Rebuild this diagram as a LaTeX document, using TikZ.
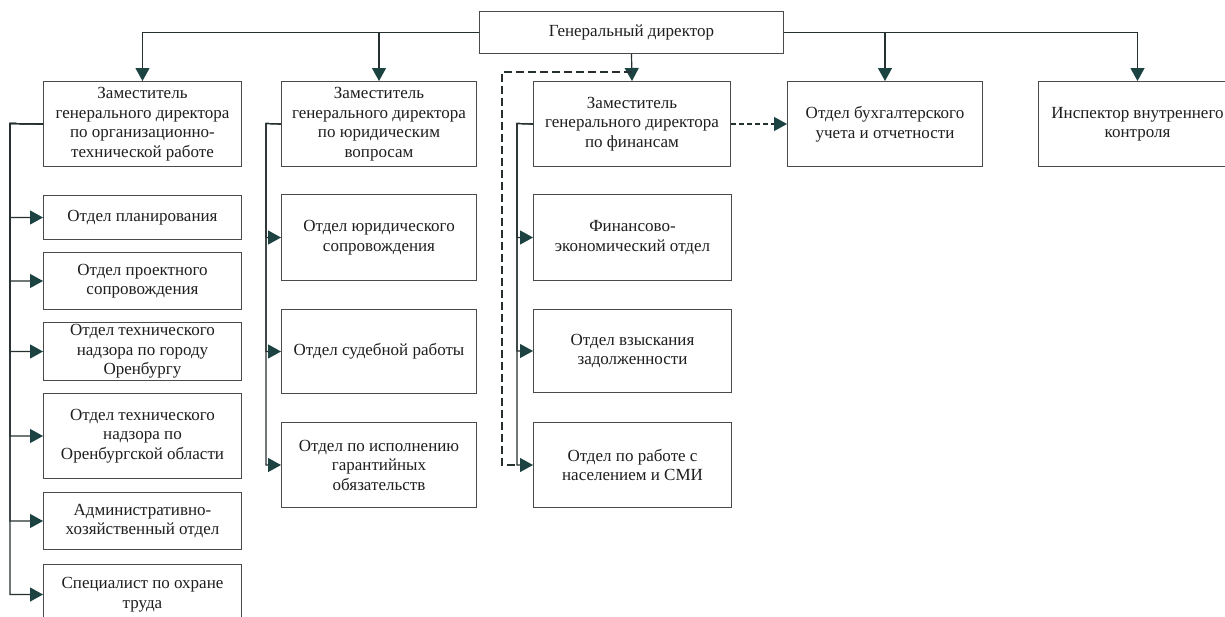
\documentclass[tikz,border=0pt]{standalone}
\usepackage{fontspec}
\setmainfont{Liberation Serif}
\usetikzlibrary{arrows.meta}
\definecolor{linec}{HTML}{263030}
\definecolor{tipc}{HTML}{1C4242}
\definecolor{boxc}{HTML}{4A4A4A}
\definecolor{textc}{HTML}{1E1E1E}
\tikzset{
  box/.style={draw=boxc, line width=1pt, fill=white, align=center, text=textc,
    font=\fontsize{17}{19.5}\selectfont, inner sep=2pt, anchor=north west},
  conn/.style={draw=linec, line width=1.2pt},
  arr/.style={conn, -{Triangle[length=13pt,width=14pt,color=tipc]}},
  dashline/.style={conn, dash pattern=on 8pt off 4pt},
  dasharr/.style={conn, dash pattern=on 5pt off 3pt, -{Triangle[length=13pt,width=14pt,color=tipc]}}
}
\begin{document}
\begin{tikzpicture}[x=1pt,y=-1pt]
\useasboundingbox (0,0) rectangle (1225,616);
\clip (0,0) rectangle (1225,616);
\fill[white] (0,0) rectangle (1225,616);

% top
\node[box, minimum width=304pt, minimum height=42pt] (top) at (479,11) {Генеральный директор};

% level 2
\node[box, minimum width=198pt, minimum height=85pt] (A) at (43,81)
  {Заместитель\\генерального директора\\по организационно-\\технической работе};
\node[box, minimum width=195pt, minimum height=85pt] (B) at (281,81)
  {Заместитель\\генерального директора\\по юридическим\\вопросам};
\node[box, minimum width=197pt, minimum height=85pt] (C) at (533,81)
  {Заместитель\\генерального директора\\по финансам};
\node[box, minimum width=195pt, minimum height=85pt] (D) at (787,81)
  {Отдел бухгалтерского\\учета и отчетности};
\node[box, minimum width=198pt, minimum height=85pt] (E) at (1038,81)
  {Инспектор внутреннего\\контроля};

% column A
\node[box, minimum width=198pt, minimum height=44pt] (A1) at (43,195) {Отдел планирования};
\node[box, minimum width=198pt, minimum height=57pt] (A2) at (43,252) {Отдел проектного\\сопровождения};
\node[box, minimum width=198pt, minimum height=58pt] (A3) at (43,322) {Отдел технического\\надзора по городу\\Оренбургу};
\node[box, minimum width=198pt, minimum height=85pt] (A4) at (43,393) {Отдел технического\\надзора по\\Оренбургской области};
\node[box, minimum width=198pt, minimum height=57pt] (A5) at (43,492) {Административно-\\хозяйственный отдел};
\node[box, minimum width=198pt, minimum height=60pt] (A6) at (43,564) {Специалист по охране\\труда};

% column B
\node[box, minimum width=195pt, minimum height=86pt] (B1) at (281,194) {Отдел юридического\\сопровождения};
\node[box, minimum width=195pt, minimum height=84pt] (B2) at (281,309) {Отдел судебной работы};
\node[box, minimum width=195pt, minimum height=85pt] (B3) at (281,422) {Отдел по исполнению\\гарантийных\\обязательств};

% column C
\node[box, minimum width=198pt, minimum height=86pt] (C1) at (533,194) {Финансово-\\экономический отдел};
\node[box, minimum width=198pt, minimum height=83pt] (C2) at (533,309) {Отдел взыскания\\задолженности};
\node[box, minimum width=198pt, minimum height=85pt] (C3) at (533,422) {Отдел по работе с\\населением и СМИ};

% bus coordinates
\coordinate (aBus) at (10,123.5);
\coordinate (bBus) at (266,123.5);
\coordinate (cBus) at (517,123.5);
\coordinate (dTop) at (502,72);

% top connectors
\draw[arr] (top.west) -| (A.north);
\draw[arr] (top.west) -| (B.north);
\draw[arr] (top.south) -- (C.north);
\draw[arr] (top.east) -| (D.north);
\draw[arr] (top.east) -| (E.north);

% column A connectors
\foreach \n in {A1,A2,A3,A4,A5,A6}
  \draw[arr] (A.west) -- (aBus) |- (\n.west);
% column B connectors
\foreach \n in {B1,B2,B3}
  \draw[arr] (B.west) -- (bBus) |- (\n.west);
% column C connectors
\foreach \n in {C1,C2,C3}
  \draw[arr] (C.west) -- (cBus) |- (\n.west);

% dashed links
\draw[dashline] (C.north |- dTop) -- (dTop) |- (C3.west -| cBus);
\draw[dasharr] (C.east) -- (D.west);
\end{tikzpicture}
\end{document}
